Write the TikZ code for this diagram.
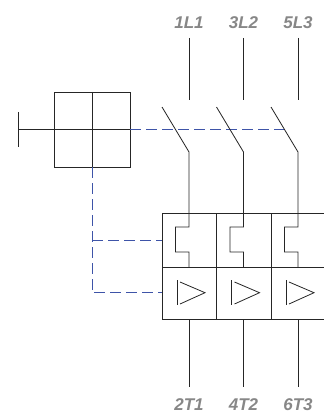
\documentclass[tikz,border=0pt]{standalone}
\usepackage{fontspec}
\setmainfont{Liberation Sans}
\definecolor{linkblue}{RGB}{62,84,168}
\definecolor{labelgray}{RGB}{135,135,135}
\tikzset{
  wire/.style={line width=0.8pt,draw=black!85},
  link/.style={line width=0.9pt,draw=linkblue,dash pattern=on 11pt off 5pt},
  term/.style={text=labelgray,font=\fontsize{17}{17}\selectfont\bfseries\itshape,inner sep=0pt,anchor=center}
}
\begin{document}
\begin{tikzpicture}[x=1pt,y=-1pt]
\useasboundingbox (0,0) rectangle (324,414);
% operating handle
\draw[wire] (18,112) -- (18,147);
\draw[wire] (18,129.5) -- (54,129.5);
\draw[wire] (54,92) rectangle (130,167);
\draw[wire] (92,92) -- (92,167);
\draw[wire] (54,129.5) -- (130,129.5);
% mechanical links
\draw[link] (130,129.5) -- (285,129.5);
\draw[link] (92,167) -- (92,292.7) -- (162,292.7);
\draw[link] (92,240) -- (162,240);
% relay block
\draw[wire] (323.9,213) -- (162,213) -- (162,319) -- (323.9,319);
\draw[wire] (162,267) -- (323.9,267);
\draw[wire] (216.5,213) -- (216.5,319);
\draw[wire] (271,213) -- (271,319);
% poles
\foreach \x/\t/\b in {189/1L1/2T1,243.5/3L2/4T2,298/5L3/6T3}{
  \node[term] at (\x,23) {\t};
  \node[term] at (\x,404.5) {\b};
  \draw[wire] (\x,38) -- (\x,100);
  \draw[wire] (\x-27,107) -- (\x,152) -- (\x,227) -- (\x-13.5,227) -- (\x-13.5,252) -- (\x,252) -- (\x,267);
  \draw[wire] (\x-12,280) -- (\x-12,305);
  \draw[wire] (\x-9,282) -- (\x+16,292.7) -- (\x-9,304);
  \draw[wire] (\x,319) -- (\x,387);
}
\end{tikzpicture}
\end{document}
